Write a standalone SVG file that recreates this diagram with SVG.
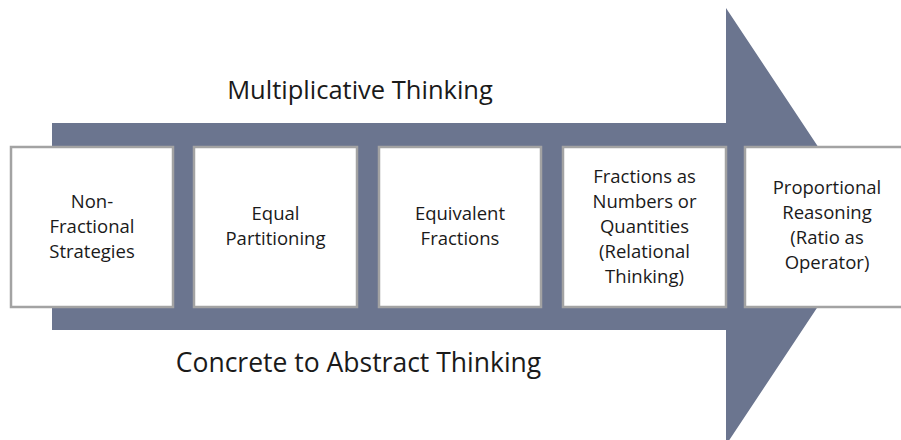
<svg xmlns="http://www.w3.org/2000/svg" width="901" height="440" viewBox="0 0 901 440">
<style>
.bg{fill:#ffffff}
.arrow{fill:#6b758f}
.box{fill:#ffffff;stroke:#a3a3a3;stroke-width:2.5}
.t{font-family:"Open Sans","Liberation Sans",sans-serif;font-size:18.5px;fill:#1a1a1a;text-anchor:middle}
.big{font-family:"Open Sans","Liberation Sans",sans-serif;fill:#1a1a1a;text-anchor:middle}
</style>
<rect class="bg" x="0" y="0" width="901" height="440"/>
<g id="arrow">
<polygon class="arrow" points="52,123 726,123 726,8 871,226.5 726,445 726,330 52,330"/>
</g>
<text class="big" x="360" y="99" font-size="25.5">Multiplicative Thinking</text>
<text class="big" x="358.5" y="372" font-size="26.5">Concrete to Abstract Thinking</text>
<g id="connectors"></g>
<g id="n1">
<rect class="box" x="11" y="147" width="162" height="160"/>
<text class="t" x="92" y="207.5">Non-<tspan x="92" dy="25">Fractional</tspan><tspan x="92" dy="25">Strategies</tspan></text>
</g>
<g id="n2">
<rect class="box" x="194" y="147" width="163" height="160"/>
<text class="t" x="275.5" y="220">Equal<tspan x="275.5" dy="25">Partitioning</tspan></text>
</g>
<g id="n3">
<rect class="box" x="379" y="147" width="162" height="160"/>
<text class="t" x="460" y="220">Equivalent<tspan x="460" dy="25">Fractions</tspan></text>
</g>
<g id="n4">
<rect class="box" x="563" y="147" width="163" height="160"/>
<text class="t" x="644.5" y="182.5">Fractions as<tspan x="644.5" dy="25">Numbers or</tspan><tspan x="644.5" dy="25">Quantities</tspan><tspan x="644.5" dy="25">(Relational</tspan><tspan x="644.5" dy="25">Thinking)</tspan></text>
</g>
<g id="n5">
<rect class="box" x="745" y="147" width="164" height="160"/>
<text class="t" x="827" y="194">Proportional<tspan x="827" dy="25">Reasoning</tspan><tspan x="827" dy="25">(Ratio as</tspan><tspan x="827" dy="25">Operator)</tspan></text>
</g>
</svg>
